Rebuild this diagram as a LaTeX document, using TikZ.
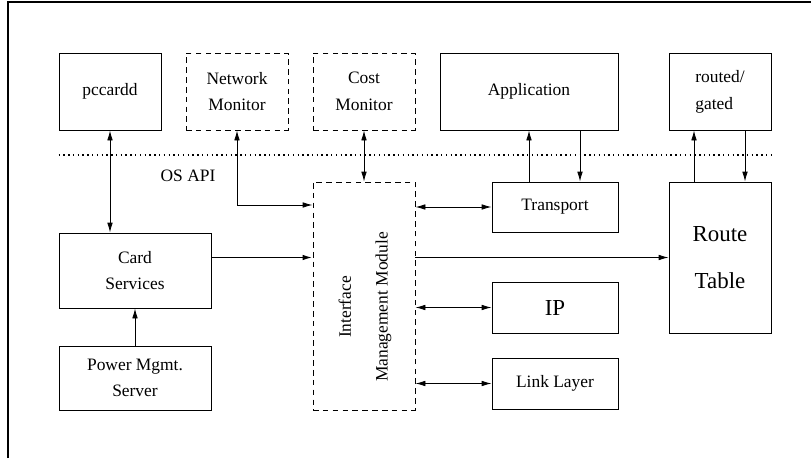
\documentclass[tikz,border=0pt]{standalone}
\usepackage{fontspec}
\setmainfont{Liberation Serif}
\usetikzlibrary{arrows.meta}

\begin{document}
\begin{tikzpicture}[x=0.25mm,y=-0.25mm,
  every node/.style={font=\fontsize{12.4}{19}\selectfont},
  box/.style={draw,line width=0.6pt,inner sep=0pt,align=center},
  dbox/.style={box,dash pattern=on 4pt off 3pt},
  big/.style={font=\fontsize{16.3}{33}\selectfont},
  arr/.style={-{Latex[length=2.5mm,width=1.4mm]},line width=0.6pt},
  darr/.style={{Latex[length=2.5mm,width=1.4mm]}-{Latex[length=2.5mm,width=1.4mm]},line width=0.6pt}]
\useasboundingbox (0,0) rectangle (811,458);
\draw[line width=0.8pt] (8,458) -- (8,2) -- (811,2);

\node[box,minimum width=25.5mm,minimum height=19.25mm] (pccardd) at (110,91.5) {pccardd};
\node[dbox,minimum width=25.5mm,minimum height=19.25mm] (netmon) at (237,91.5) {Network\\Monitor};
\node[dbox,minimum width=25.5mm,minimum height=19.25mm] (costmon) at (364,91.5) {Cost\\Monitor};
\node[box,minimum width=44.5mm,minimum height=19.25mm] (app) at (529,91.5) {Application};
\node[box,minimum width=25.5mm,minimum height=19.25mm,align=left] (routed) at (720,91.5) {routed/\\gated};

\node (osapi) at (188,176) {OS API};

\node[dbox,minimum width=25.5mm,minimum height=57mm] (imm) at (364,296) {};
\node[rotate=90,align=center,font=\fontsize{12.4}{26}\selectfont] (immtext) at (365,307) {Interface\\Management Module};
\node[box,minimum width=31.5mm,minimum height=12.5mm] (transport) at (555,207) {Transport};
\node[box,big,minimum width=25.5mm,minimum height=37.75mm] (route) at (720,257.5) {Route\\Table};
\node[box,minimum width=38mm,minimum height=18.75mm] (card) at (135,270.5) {Card\\Services};
\node[box,minimum width=38mm,minimum height=16mm] (power) at (135,378) {Power Mgmt.\\Server};
\node[box,big,minimum width=31.5mm,minimum height=12.75mm] (ip) at (555,307.5) {IP};
\node[box,minimum width=31.5mm,minimum height=12.75mm] (link) at (555,383.5) {Link Layer};

% OS API boundary
\draw[line width=1pt,dash pattern=on 1pt off 2.4pt] (pccardd.west |- 0,155) -- (routed.east |- 0,155);

\coordinate (nmin) at (imm.west |- 0,205);
\draw[darr] (pccardd.south) -- (pccardd.south |- card.north);
\draw[darr] (netmon.south) |- (nmin);
\draw[darr] (costmon.south) -- (imm.north);
\draw[arr] (app.south |- transport.north) -- (app.south);
\draw[arr] (app.south -| 580,0) -- (transport.north -| 580,0);
\draw[arr] (route.north -| 694,0) -- (routed.south -| 694,0);
\draw[arr] (routed.south -| 745,0) -- (route.north -| 745,0);
\draw[darr] (imm.east |- transport.west) -- (transport.west);
\draw[arr,line width=1.2pt] (card.east |- route.west) -- (imm.west |- route.west);
\draw[arr] (imm.east |- route.west) -- (route.west);
\draw[darr] (imm.east |- ip.west) -- (ip.west);
\draw[darr] (imm.east |- link.west) -- (link.west);
\draw[arr] (power.north) -- (card.south);
\end{tikzpicture}
\end{document}
